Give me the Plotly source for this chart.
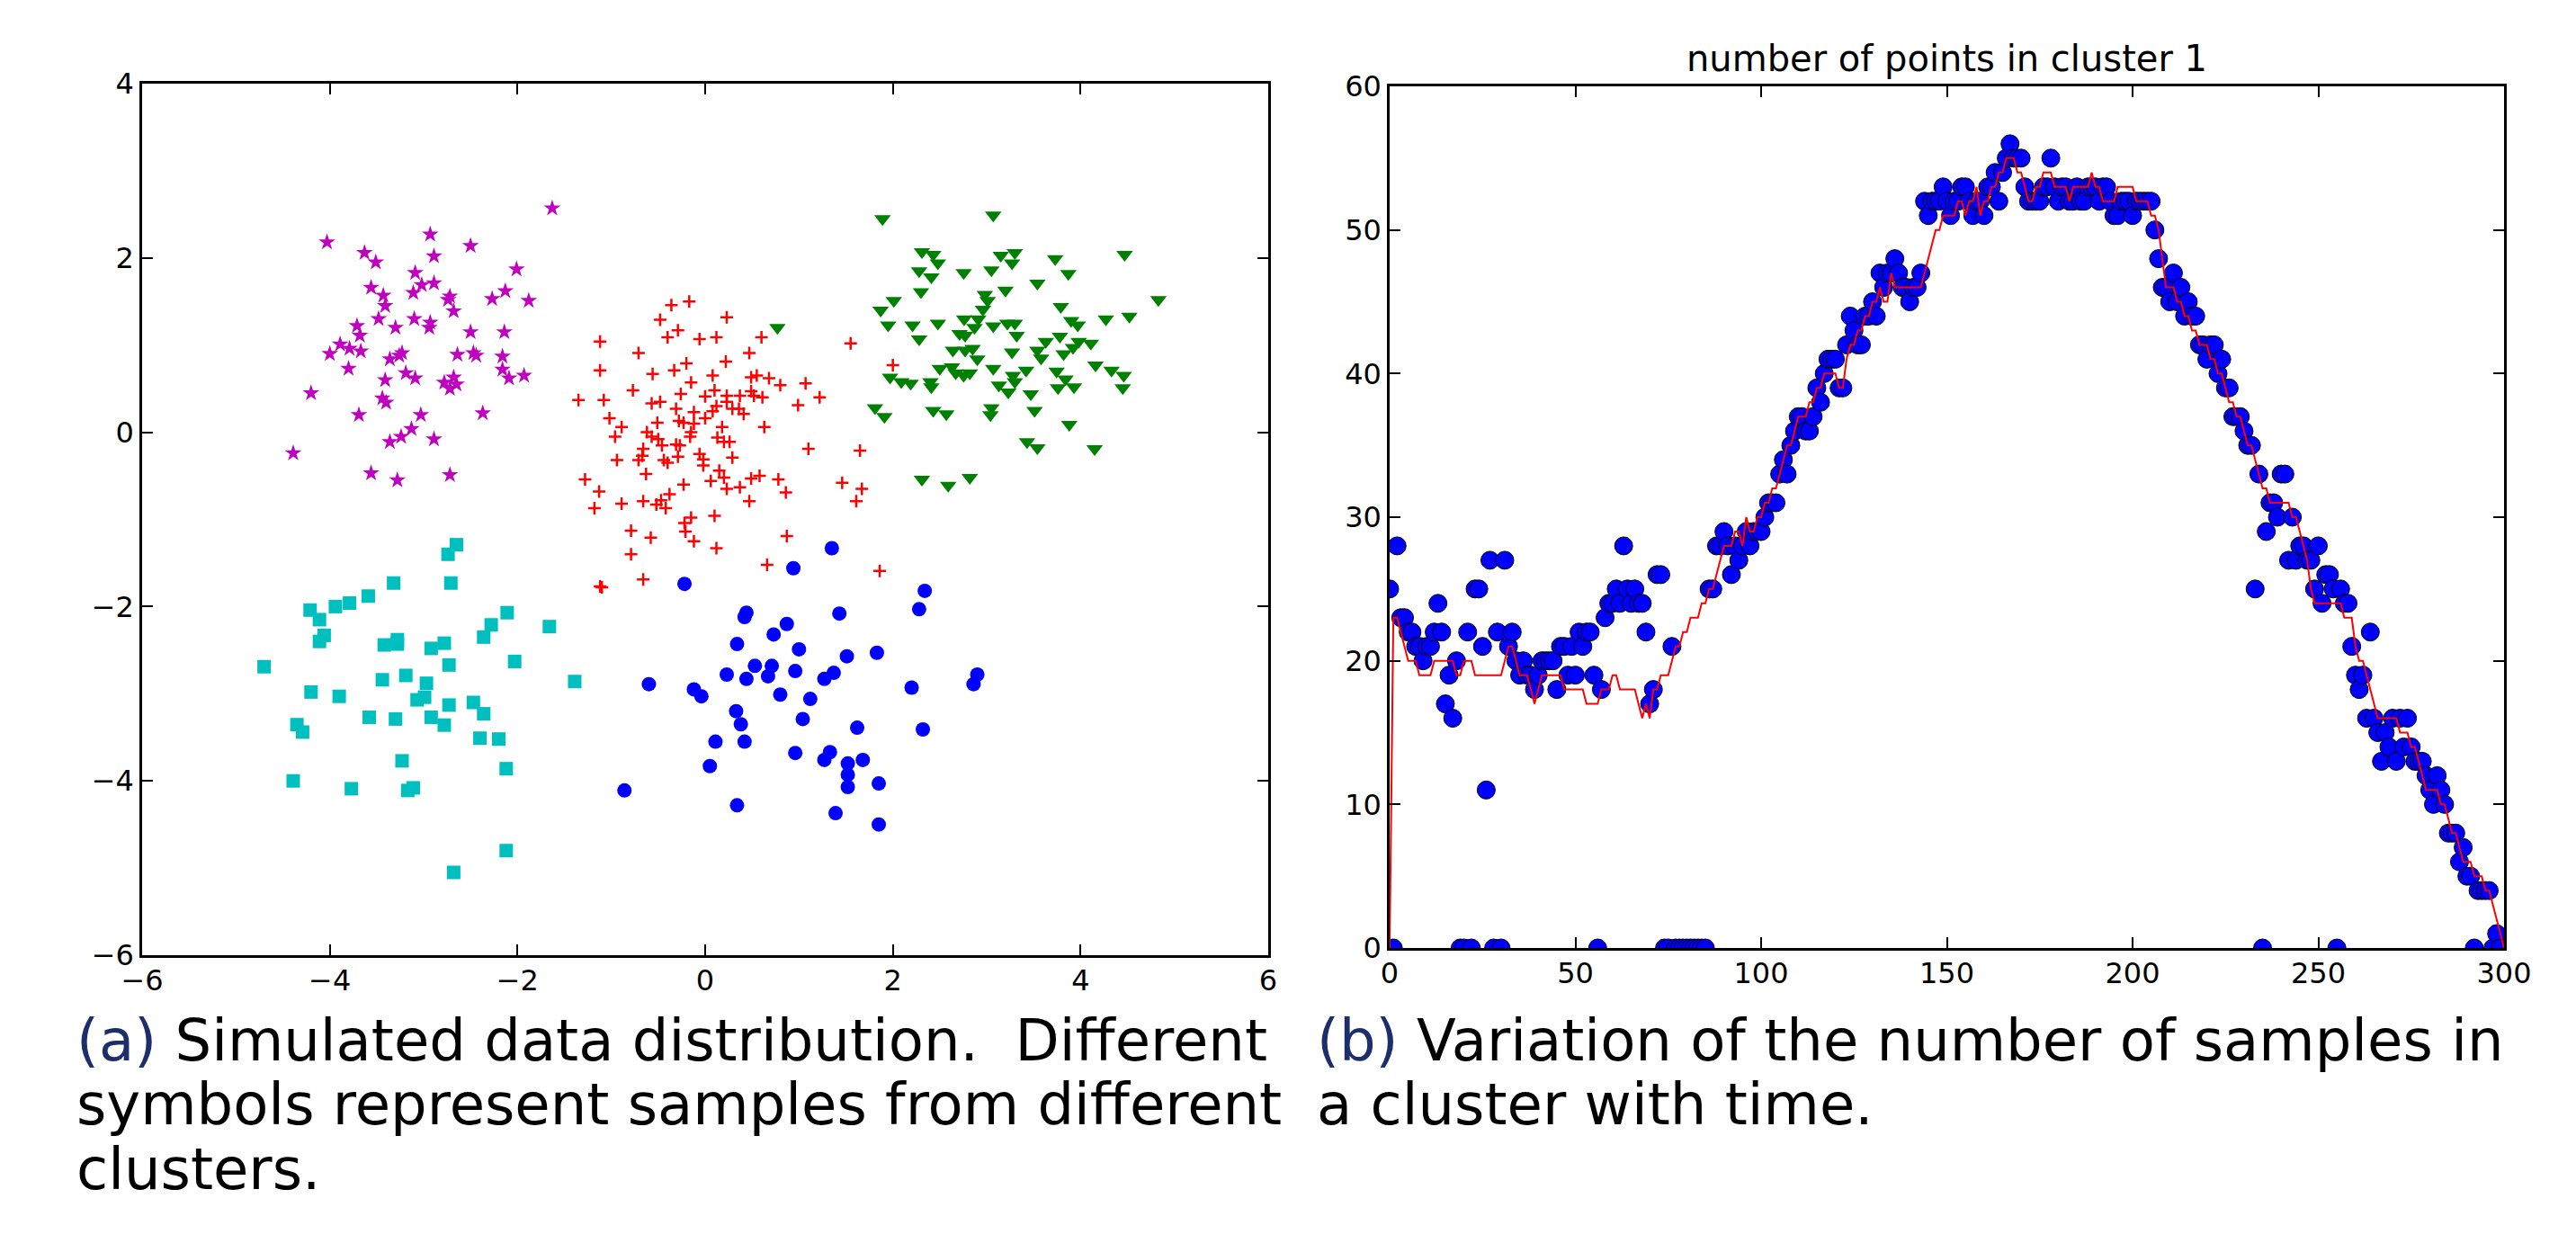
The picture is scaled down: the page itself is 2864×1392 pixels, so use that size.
import plotly.graph_objects as go

W, H = 2864, 1392

# ---------------- Left panel data: simulated clusters ----------------
magenta_x = [-4.03,-1.63,-2.93,-2.50,-3.63,-3.51,-2.89,-2.01,-3.09,-3.56,-3.02,-2.89,-3.43,-3.11,-2.72,-2.74,
             -2.13,-2.27,-1.88,-3.41,-2.68,-3.48,-3.10,-3.30,-2.94,-3.71,-3.68,-2.50,-2.14,-3.89,-4.00,-3.79,
             -3.67,-3.23,-3.26,-3.36,-2.64,-2.47,-2.16,-3.80,-3.41,-3.19,-3.09,-2.78,-2.72,-2.65,-2.68,-2.16,
             -2.09,-1.93,-4.20,-3.44,-3.40,-3.69,-3.03,-2.37,-4.39,-3.13,-3.24,-3.36,-2.89,-3.56,-3.28,-2.72,
             -2.93,-2.44]
magenta_y = [2.18,2.57,2.27,2.14,2.06,1.95,2.02,1.87,1.83,1.66,1.69,1.71,1.57,1.60,1.56,1.52,
             1.62,1.53,1.51,1.45,1.39,1.30,1.30,1.20,1.20,1.22,1.11,1.15,1.15,1.01,0.90,0.96,
             0.93,0.91,0.88,0.84,0.89,0.91,0.87,0.73,0.60,0.68,0.62,0.57,0.50,0.55,0.63,0.72,
             0.62,0.65,0.45,0.39,0.34,0.20,0.20,0.22,-0.24,0.04,-0.05,-0.11,-0.08,-0.47,-0.55,-0.49,
             1.26,0.88]

red_x = [-0.17,-0.36,0.23,-0.48,-0.29,-0.40,-0.06,0.12,0.60,-1.12,-0.71,0.47,0.22,-0.20,-0.33,-1.12,
         -0.56,0.08,0.49,0.55,0.68,-0.15,0.80,1.07,-0.77,-0.26,0.00,0.10,0.23,0.37,0.49,0.52,
         0.61,1.22,-1.35,-1.08,-0.57,-0.48,0.23,0.99,-0.31,0.12,0.08,0.29,0.36,0.41,-0.12,0.00,
         -1.02,-0.51,-0.28,-0.23,-0.12,-0.89,0.18,0.63,-0.96,-0.62,-0.57,-0.50,-0.15,-0.16,0.13,0.20,
         0.26,-0.46,-0.31,-0.27,-0.66,1.10,1.65,-0.94,-0.71,-0.67,-0.44,-0.40,-0.29,-0.06,-0.02,-0.02,
         0.29,-0.63,0.15,0.20,-1.28,0.06,0.49,0.58,0.78,1.46,-0.23,0.23,0.37,1.67,-1.13,0.86,
         -0.38,1.61,-0.89,-0.66,-0.47,-0.52,-0.42,0.47,-1.18,-0.15,-0.22,0.10,-0.79,-0.21,-0.58,-0.12,
         0.87,0.12,-0.79,0.66,1.86,-0.66,-1.12,1.55,2.00,-1.10]
red_y = [1.50,1.46,1.32,1.29,1.17,1.09,1.07,1.09,1.09,1.04,0.91,0.91,0.81,0.79,0.71,0.71,
         0.67,0.65,0.63,0.65,0.62,0.57,0.54,0.56,0.48,0.44,0.41,0.48,0.42,0.42,0.47,0.42,
         0.40,0.40,0.37,0.37,0.33,0.35,0.35,0.31,0.27,0.30,0.24,0.27,0.27,0.21,0.23,0.16,
         0.16,0.11,0.13,0.11,0.10,0.06,0.06,0.06,-0.05,0.00,-0.05,-0.08,0.00,-0.05,-0.06,-0.11,
         -0.11,-0.15,-0.14,-0.15,-0.19,-0.19,-0.21,-0.32,-0.32,-0.27,-0.32,-0.35,-0.28,-0.25,-0.31,-0.38,
         -0.29,-0.48,-0.44,-0.52,-0.54,-0.56,-0.53,-0.50,-0.54,-0.58,-0.60,-0.65,-0.63,-0.65,-0.68,-0.69,
         -0.71,-0.79,-0.82,-0.79,-0.78,-0.83,-0.87,-0.79,-0.87,-0.98,-1.04,-0.96,-1.13,-1.14,-1.21,-1.25,
         -1.19,-1.33,-1.40,-1.52,-1.59,-1.69,-1.77,1.02,0.77,-1.78]

green_x = [1.89,3.07,2.31,2.43,2.48,2.28,2.41,2.755,3.05,3.15,3.30,3.27,3.73,3.87,3.54,4.47,
           2.30,3.20,2.01,1.87,1.95,2.98,3.01,2.96,2.91,4.83,3.79,2.21,2.28,2.48,2.76,2.87,
           2.71,2.77,3.07,3.22,3.30,3.32,3.90,3.97,4.27,4.52,3.78,3.63,3.98,4.11,3.92,2.64,
           2.77,2.85,2.90,3.27,3.54,3.58,3.82,2.50,2.63,2.67,2.755,2.82,3.07,3.28,3.42,3.745,
           3.84,3.93,4.16,4.33,4.46,4.45,1.97,2.09,2.19,2.40,2.41,3.13,3.23,3.30,3.76,3.47,
           1.81,1.91,2.43,2.57,3.05,3.04,3.51,3.88,3.43,3.54,4.15,2.31,2.59,2.82,0.77]
green_y = [2.45,2.49,2.07,2.04,1.94,1.85,1.78,1.83,1.86,2.03,2.06,1.94,1.99,1.82,1.71,2.04,
           1.61,1.63,1.51,1.40,1.23,1.58,1.51,1.41,1.30,1.52,1.44,1.23,1.07,1.25,1.30,1.20,
           1.13,1.11,1.22,1.25,1.25,1.11,1.28,1.23,1.30,1.33,1.10,1.04,1.04,1.02,0.97,0.94,
           0.94,0.96,0.84,0.92,0.94,0.85,0.90,0.73,0.75,0.68,0.65,0.68,0.73,0.65,0.71,0.70,
           0.61,0.52,0.77,0.71,0.65,0.51,0.63,0.58,0.56,0.58,0.52,0.54,0.46,0.58,0.51,0.44,
           0.28,0.18,0.25,0.21,0.28,0.20,0.25,0.09,-0.11,-0.18,-0.19,-0.54,-0.61,-0.52,1.20]

cyan_x = [-2.65,-2.74,-3.32,-2.71,-3.59,-3.79,-3.94,-4.21,-4.11,-4.06,-4.11,-2.11,-2.28,-2.36,-1.66,-3.28,
          -3.28,-3.42,-2.78,-2.92,-2.73,-2.03,-4.70,-3.44,-3.19,-2.97,-1.39,-4.20,-3.90,-2.99,-3.07,-2.73,
          -2.47,-2.36,-3.58,-3.30,-2.92,-2.78,-4.35,-4.29,-2.40,-2.20,-3.23,-2.12,-4.39,-3.77,-3.17,-3.11,
          -2.12,-2.68]
cyan_y = [-1.29,-1.40,-1.73,-1.73,-1.88,-1.96,-2.00,-2.04,-2.15,-2.33,-2.40,-2.07,-2.21,-2.35,-2.23,-2.38,
          -2.43,-2.44,-2.42,-2.48,-2.67,-2.63,-2.69,-2.84,-2.79,-2.88,-2.86,-2.98,-3.03,-3.04,-3.07,-3.13,
          -3.10,-3.23,-3.27,-3.29,-3.27,-3.36,-3.355,-3.44,-3.51,-3.52,-3.77,-3.86,-4.00,-4.09,-4.11,-4.08,
          -4.80,-5.05]

blue_x = [1.35,0.94,-0.22,2.34,2.28,0.44,0.42,1.43,0.87,0.73,0.34,1.00,1.51,1.83,0.53,0.71,
          0.23,0.44,0.67,0.96,1.27,1.37,2.20,2.90,2.86,-0.60,-0.12,-0.04,0.80,1.12,0.33,0.38,
          1.04,1.62,2.32,0.11,0.42,0.96,1.27,1.33,1.52,1.68,1.52,1.52,1.85,0.05,-0.86,0.34,
          1.39,1.85]
blue_y = [-1.33,-1.56,-1.74,-1.82,-2.03,-2.07,-2.12,-2.08,-2.20,-2.32,-2.43,-2.49,-2.57,-2.53,-2.68,-2.68,
          -2.78,-2.83,-2.80,-2.74,-2.83,-2.76,-2.93,-2.78,-2.89,-2.89,-2.95,-3.03,-3.01,-3.06,-3.20,-3.35,
          -3.29,-3.39,-3.41,-3.55,-3.55,-3.68,-3.76,-3.67,-3.80,-3.76,-3.93,-4.07,-4.03,-3.83,-4.11,-4.28,
          -4.37,-4.50]

left_xticks = [-6, -4, -2, 0, 2, 4, 6]
left_yticks = [-6, -4, -2, 0, 2, 4]

# ---------------- Right panel data: cluster size over time ----------------
time_steps = list(range(0, 300))
cluster_counts = [
    25,0,28,23,23,22,22,21,21,20,
    21,21,22,24,22,17,19,16,20,0,
    0,22,0,25,25,21,11,27,0,22,
    0,27,21,22,20,19,20,19,19,18,
    19,20,20,20,20,18,21,21,19,21,
    19,22,21,22,22,19,0,18,23,24,
    24,25,24,28,25,24,25,24,24,22,
    17,18,26,26,0,0,21,0,0,0,
    0,0,0,0,0,0,25,25,28,28,
    29,28,26,28,27,28,29,28,29,29,
    29,30,31,31,31,33,34,33,35,36,
    37,37,36,36,37,39,38,40,41,41,
    41,39,39,42,44,43,42,42,44,44,
    45,44,47,46,47,47,48,47,46,46,
    45,46,46,47,52,51,52,52,52,53,
    52,51,52,52,53,53,52,51,52,52,
    51,53,53,54,52,54,55,56,55,55,
    55,53,52,52,52,52,53,53,55,53,
    52,53,53,52,52,53,52,52,53,53,
    53,52,53,53,52,51,51,52,52,52,
    51,52,52,52,52,52,50,48,46,46,
    45,47,45,46,44,45,44,44,42,42,
    41,42,42,40,41,39,39,37,37,37,
    36,35,35,25,33,0,29,31,31,30,
    33,33,27,30,27,28,28,27,27,25,
    28,24,26,26,25,0,25,24,24,21,
    19,18,19,16,22,16,15,13,15,14,
    16,13,16,14,16,14,13,13,13,12,
    11,10,12,11,10,8,8,8,6,7,
    5,5,0,4,4,4,4,0,1,0]

smooth_t = list(range(0, 301))
smooth_counts = [
    0,23,23,22,21,20,20,20,19,19,
    19,19,20,20,20,20,20,20,19,19,
    20,20,20,19,19,19,19,19,19,19,
    19,20,21,21,20,19,19,19,18,17,
    18,19,19,19,19,19,19,18,18,18,
    18,18,18,17,17,17,17,18,18,18,
    19,19,18,18,18,18,18,17,16,17,
    16,18,18,19,19,19,20,21,21,22,
    22,23,23,23,24,24,25,25,26,27,
    28,28,28,29,29,28,30,29,29,30,
    30,31,31,32,32,33,34,35,35,36,
    37,37,37,38,38,39,39,40,40,40,
    40,39,39,41,42,42,43,43,44,44,
    45,45,46,45,45,47,46,46,46,46,
    46,46,46,46,47,48,49,50,50,51,
    51,51,51,52,52,51,52,52,53,51,
    52,52,53,53,54,54,55,55,55,54,
    54,53,52,52,53,53,54,54,54,53,
    53,53,53,52,53,53,53,53,53,54,
    53,53,52,52,52,52,53,53,53,53,
    53,52,52,52,52,51,51,50,48,46,
    46,46,45,45,44,44,43,43,42,42,
    42,41,41,40,40,39,38,38,37,37,
    36,35,35,34,33,32,32,31,31,31,
    31,31,31,30,30,29,28,27,25,24,
    24,24,24,24,24,24,24,23,23,23,
    21,20,20,19,18,17,16,16,16,16,
    16,16,15,15,15,14,14,13,12,11,
    11,11,11,10,10,9,8,8,7,6,
    6,6,5,5,5,4,4,3,2,1,
    0]

right_xticks = [0, 50, 100, 150, 200, 250, 300]
right_yticks = [0, 10, 20, 30, 40, 50, 60]

right_title = "number of points in cluster 1"
caption_a = ["<span style='color:#1d2f6b'>(a)</span> Simulated data distribution.  Different",
             "symbols represent samples from different",
             "clusters."]
caption_b = ["<span style='color:#1d2f6b'>(b)</span> Variation of the number of samples in",
             "a cluster with time."]

# ---------------- Figure ----------------
fig = go.Figure()

fig.add_trace(go.Scatter(x=magenta_x, y=magenta_y, mode="markers", xaxis="x", yaxis="y",
                         marker=dict(symbol="star", size=14, color="#bf00bf", line=dict(width=0))))
fig.add_trace(go.Scatter(x=red_x, y=red_y, mode="markers", xaxis="x", yaxis="y",
                         marker=dict(symbol="cross-thin", size=10, color="#ff0000",
                                     line=dict(width=2.5, color="#ff0000"))))
fig.add_trace(go.Scatter(x=green_x, y=green_y, mode="markers", xaxis="x", yaxis="y",
                         marker=dict(symbol="triangle-down", size=16, color="#008000", line=dict(width=0))))
fig.add_trace(go.Scatter(x=cyan_x, y=cyan_y, mode="markers", xaxis="x", yaxis="y",
                         marker=dict(symbol="square", size=15, color="#00bfbf", line=dict(width=0))))
fig.add_trace(go.Scatter(x=blue_x, y=blue_y, mode="markers", xaxis="x", yaxis="y",
                         marker=dict(symbol="circle", size=16, color="#0000ff", line=dict(width=0))))

fig.add_trace(go.Scatter(x=time_steps, y=cluster_counts, mode="markers", xaxis="x2", yaxis="y2",
                         marker=dict(symbol="circle", size=20, color="#0000ff",
                                     line=dict(width=1, color="#000000"))))
fig.add_trace(go.Scatter(x=smooth_t, y=smooth_counts, mode="lines", xaxis="x2", yaxis="y2",
                         line=dict(color="#ff0000", width=2)))

tickfont = dict(family="DejaVu Sans", size=32, color="black")
axis_common = dict(showline=True, linecolor="black", linewidth=2.5, mirror="ticks",
                   ticks="inside", ticklen=12, tickwidth=2, tickcolor="black",
                   showgrid=False, zeroline=False, tickfont=tickfont, automargin=False)

fig.update_layout(
    width=W, height=H,
    margin=dict(l=0, r=0, t=0, b=0, autoexpand=False),
    paper_bgcolor="white", plot_bgcolor="white",
    showlegend=False,
    xaxis=dict(domain=[150 / W, 1402 / W], range=[-6, 6], tickvals=left_xticks,
               anchor="y", ticklabelstandoff=-2, **axis_common),
    yaxis=dict(domain=[1 - 1054 / H, 1 - 85 / H], range=[-6, 4], tickvals=left_yticks,
               anchor="x", **axis_common),
    xaxis2=dict(domain=[1537 / W, 2776 / W], range=[0, 300], tickvals=right_xticks,
                anchor="y2", ticklabelstandoff=-2, **axis_common),
    yaxis2=dict(domain=[1 - 1046 / H, 1 - 88 / H], range=[0, 60], tickvals=right_yticks,
                anchor="x2", **axis_common),
)

annotations = [dict(text=right_title, xref="paper", yref="paper",
                    x=(1537 + 2776) / 2 / W, y=1 - 57 / H, xanchor="center", yanchor="middle",
                    showarrow=False, font=dict(family="DejaVu Sans", size=40, color="black"))]

cap_font = dict(family="DejaVu Sans", size=64, color="black")
cap_rows = [1149, 1220, 1292]
for i, line in enumerate(caption_a):
    annotations.append(dict(text=line, xref="paper", yref="paper", x=75 / W, y=1 - cap_rows[i] / H,
                            xanchor="left", yanchor="middle", showarrow=False, font=cap_font))
for i, line in enumerate(caption_b):
    annotations.append(dict(text=line, xref="paper", yref="paper", x=1454 / W, y=1 - cap_rows[i] / H,
                            xanchor="left", yanchor="middle", showarrow=False, font=cap_font))
fig.update_layout(annotations=annotations)

fig.write_html("out.html")
